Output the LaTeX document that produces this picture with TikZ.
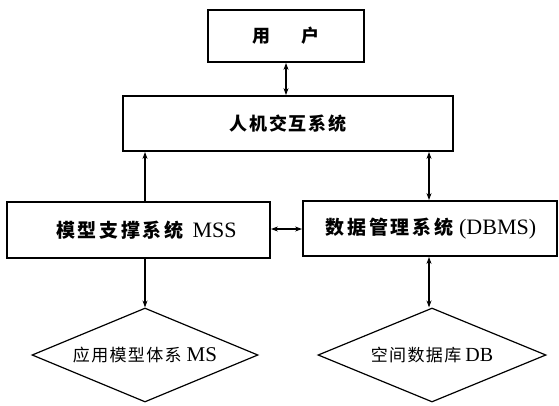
\documentclass[tikz,border=0pt]{standalone}
\usepackage{fontspec}
\setmainfont{Liberation Serif}
\newfontfamily\cjk{Noto Sans CJK SC}
\usetikzlibrary{shapes.geometric,arrows.meta}
\begin{document}
\begin{tikzpicture}[x=1pt,y=-1pt,
  box/.style={draw,line width=1.8pt,inner sep=0pt},
  dia/.style={draw,diamond,aspect=2.4,line width=1.2pt,inner sep=0pt},
  zh/.style={font=\cjk\bfseries\fontsize{18}{20}\selectfont},
  zhb/.style={font=\cjk\bfseries\fontsize{19}{21}\selectfont\addfontfeature{LetterSpace=14}},
  zhd/.style={font=\cjk\fontsize{17}{19}\selectfont\addfontfeature{LetterSpace=8}},
  both/.style={line width=1.1pt,{Stealth[length=7pt,width=5pt]}-{Stealth[length=7pt,width=5pt]}},
  one/.style={line width=1.1pt,-{Stealth[length=7pt,width=5pt]}}]
\newcommand\lat[2]{{\rmfamily\mdseries\fontsize{#1}{#1}\selectfont #2}}
\useasboundingbox (0,0) rectangle (559,405);
\node[box,minimum width=156pt,minimum height=52pt,zh] (user) at (286,36) {用\hspace{1.7em}户};
\node[box,minimum width=330pt,minimum height=55pt,zh] (hci) at (288,123.5) {\addfontfeature{LetterSpace=10}人机交互系统};
\node[box,minimum width=263pt,minimum height=56pt,zhb] (mss) at (138.5,230) {\hspace{16pt}模型支撑系统\hspace{9pt}\lat{22}{MSS}};
\node[box,minimum width=254pt,minimum height=55pt,zhb] (dbms) at (430,228.5) {\hspace{2pt}数据管理系统\hspace{6pt}\lat{22}{(DBMS)}};
\node[dia,minimum width=226pt,minimum height=94pt,zhd] (dms) at (145,355) {应用模型体系\hspace{5pt}\lat{21}{MS}};
\node[dia,minimum width=228pt,minimum height=94pt,zhd] (ddb) at (432,355) {空间数据库\hspace{4pt}\lat{20}{DB}};
\coordinate (xl) at (145,0);
\coordinate (xr) at (429,0);
\coordinate (xu) at (286,0);
\draw[both] (user.south -| xu) -- (hci.north -| xu);
\draw[one] (mss.north -| xl) -- (hci.south -| xl);
\draw[both] (hci.south -| xr) -- (dbms.north -| xr);
\draw[both] (mss.east |- 0,229) -- (dbms.west |- 0,229);
\draw[one] (mss.south -| dms.north) -- (dms.north);
\draw[both] (dbms.south -| xr) -- (ddb.north -| xr);
\end{tikzpicture}
\end{document}
